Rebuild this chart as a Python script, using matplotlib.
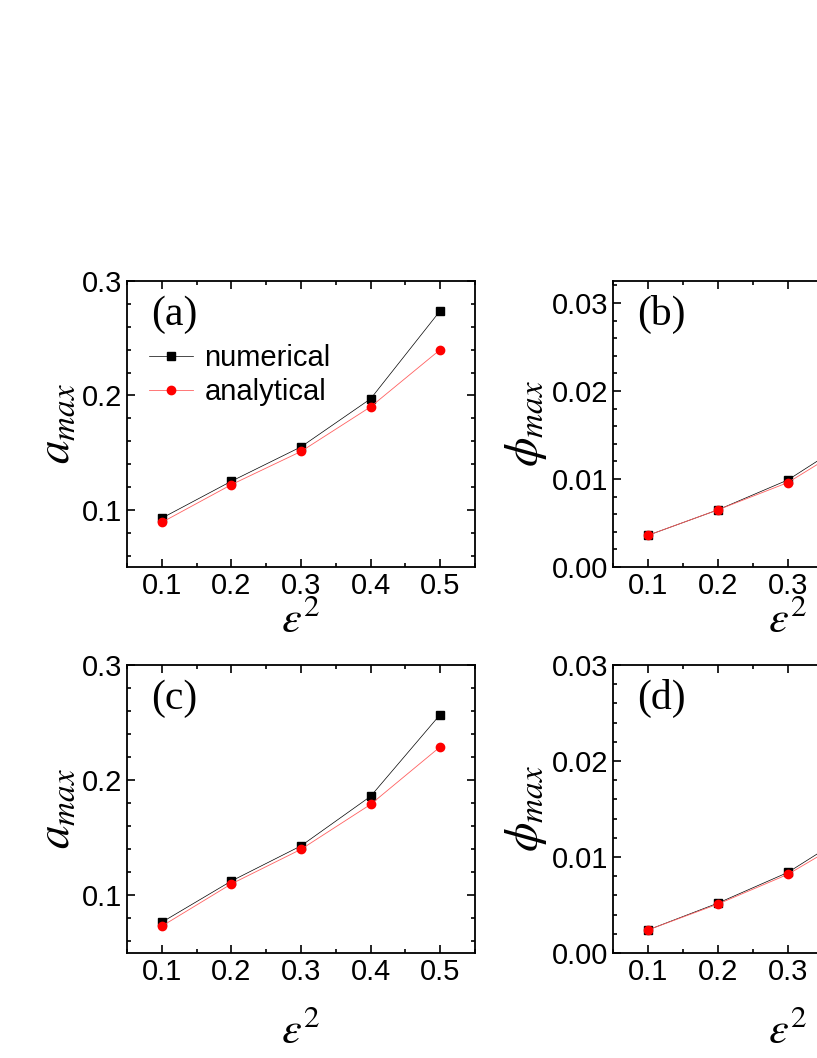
import matplotlib
matplotlib.use("Agg")
import matplotlib.pyplot as plt
from matplotlib.ticker import MultipleLocator, FormatStrFormatter

plt.rcParams["font.family"] = ["Liberation Sans", "DejaVu Sans"]
plt.rcParams["mathtext.fontset"] = "stix"

# ── Data ───────────────────────────────────────────────────────────────────
eps2 = [0.1, 0.2, 0.3, 0.4, 0.5]
a_num_top = [0.0927, 0.125, 0.155, 0.197, 0.274]
a_ana_top = [0.089, 0.122, 0.151, 0.190, 0.240]
phi_num_top = [0.0036, 0.0065, 0.0099, 0.0150, 0.0240]
phi_ana_top = [0.0036, 0.0065, 0.0096, 0.0145, 0.0225]
a_num_bot = [0.0767, 0.1125, 0.143, 0.186, 0.257]
a_ana_bot = [0.0733, 0.110, 0.140, 0.179, 0.229]
phi_num_bot = [0.0024, 0.0052, 0.0084, 0.0130, 0.0210]
phi_ana_bot = [0.0024, 0.0051, 0.0082, 0.0125, 0.0195]

fig = plt.figure(figsize=(8.17, 10.58), dpi=100)
W, H = 817, 1058

def px_axes(left, top, right, bottom):
    return fig.add_axes([left / W, 1 - bottom / H, (right - left) / W, (bottom - top) / H])

panels = [
    (px_axes(127, 281, 475, 567), a_num_top, a_ana_top, (0.05, 0.3), 0.1, "%.1f", r"$a_{max}$", "(a)", True, 0),
    (px_axes(613, 281, 963, 567), phi_num_top, phi_ana_top, (0.0, 0.0325), 0.01, "%.2f", r"$\phi_{max}$", "(b)", False, 0),
    (px_axes(127, 665, 475, 953), a_num_bot, a_ana_bot, (0.05, 0.3), 0.1, "%.1f", r"$a_{max}$", "(c)", False, 18),
    (px_axes(613, 665, 963, 953), phi_num_bot, phi_ana_bot, (0.0, 0.03), 0.01, "%.2f", r"$\phi_{max}$", "(d)", False, 18),
]

for ax, num, ana, ylim, ystep, fmt, ylab, tag, show_leg, xpad in panels:
    ax.plot(eps2, num, color="black", lw=0.5, marker="s", ms=6, label="numerical")
    ax.plot(eps2, ana, color="#ff6060", lw=0.6, marker="o", ms=6,
            mfc="red", mec="red", label="analytical")
    ax.set_xlim(0.05, 0.55)
    ax.set_ylim(*ylim)
    ax.xaxis.set_major_locator(MultipleLocator(0.1))
    ax.xaxis.set_minor_locator(MultipleLocator(0.05))
    ax.yaxis.set_major_locator(MultipleLocator(ystep))
    ax.yaxis.set_minor_locator(MultipleLocator(ystep / 5))
    ax.yaxis.set_major_formatter(FormatStrFormatter(fmt))
    ax.xaxis.set_major_formatter(FormatStrFormatter("%.1f"))
    ax.tick_params(which="both", direction="in", top=True, right=True, labelsize=21, width=1.2)
    ax.tick_params(which="major", length=6)
    ax.tick_params(which="minor", length=3)
    for s in ax.spines.values():
        s.set_linewidth(1.3)
    ax.set_xlabel(r"$\varepsilon^2$", fontsize=32, labelpad=xpad)
    ax.set_ylabel(ylab, fontsize=34, labelpad=2)
    ax.text(0.07, 0.95, tag, transform=ax.transAxes, fontsize=30, va="top",
            family=["Liberation Serif", "DejaVu Serif"])
    if show_leg:
        ax.legend(loc="upper left", bbox_to_anchor=(0.03, 0.82), frameon=False,
                  fontsize=21, handlelength=1.5, handletextpad=0.4, labelspacing=0.2,
                  borderaxespad=0)

fig.savefig("out.png", dpi=100)
